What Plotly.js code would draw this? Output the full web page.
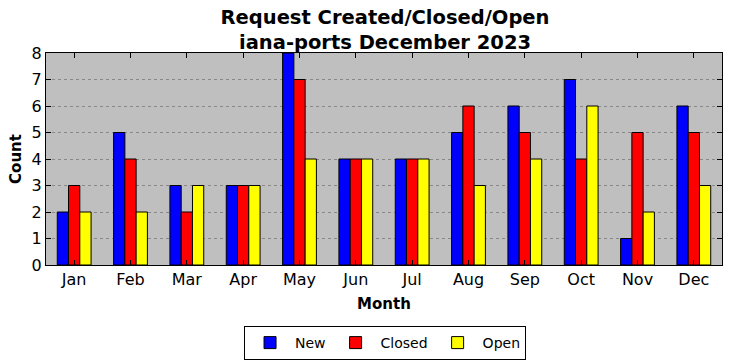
<!DOCTYPE html>
<html><head><meta charset="utf-8">
<script src="https://cdn.plot.ly/plotly-3.0.1.min.js"></script>
<style>html,body{margin:0;padding:0;background:#fff;}</style>
</head><body>
<div id="chart" style="width:732px;height:361px;"></div>
<script>
const months = ["Jan","Feb","Mar","Apr","May","Jun","Jul","Aug","Sep","Oct","Nov","Dec"];
const newVals = [2,5,3,3,8,4,4,5,6,7,1,6];
const closedVals = [3,4,2,3,7,4,4,6,5,4,5,5];
const openVals = [2,2,3,3,4,4,4,3,4,6,2,3];
const yTicks = [0,1,2,3,4,5,6,7,8];

const font = "DejaVu Sans, sans-serif";
function tr(name, vals, color){
  return {type:"bar", name:name, x:months, y:vals,
    marker:{color:color, line:{color:"#000", width:1}}};
}
const data = [tr("New", newVals, "#0000ff"), tr("Closed", closedVals, "#ff0000"), tr("Open", openVals, "#ffff00")];
const layout = {
  width:732, height:361,
  margin:{l:46, r:10, t:53, b:96, autoexpand:false},
  paper_bgcolor:"#fff", plot_bgcolor:"#bfbfbf",
  font:{family:font, color:"#000", size:16},
  title:{text:"<b>Request Created/Closed/Open<br>iana-ports December 2023</b>", x:0.526, xanchor:"center",
    yref:"container", y:1-24/361, yanchor:"bottom", font:{size:19.5, family:font, lineposition:"none"}, automargin:false},
  barmode:"group", bargap:0.4, bargroupgap:0,
  xaxis:{type:"category", range:[-0.5,11.5], ticks:"inside", ticklen:5, tickcolor:"#000",
    showline:true, linecolor:"#000", linewidth:1, mirror:"allticks", showgrid:false, automargin:false,
    tickfont:{size:16, family:font},
    title:{text:"<b>Month</b>", font:{size:15, family:font}, standoff:10}},
  yaxis:{range:[0,8], tickvals:yTicks, ticks:"inside", ticklen:5, tickcolor:"#000", automargin:false,
    showline:true, linecolor:"#000", linewidth:1, mirror:"allticks",
    showgrid:true, gridcolor:"#888", griddash:"dot", gridwidth:1, zeroline:false,
    tickfont:{size:16, family:font},
    title:{text:"<b>Count</b>", font:{size:15, family:font}, standoff:6}},
  legend:{orientation:"h", x:0.526, xanchor:"center", xref:"container", yref:"container", y:1-326/361, yanchor:"top",
    itemwidth:40, bordercolor:"#000", borderwidth:1, font:{size:14, family:font}, traceorder:"normal"},
  showlegend:true
};
Plotly.newPlot("chart", data, layout, {displayModeBar:false, staticPlot:true});
</script>
</body></html>
